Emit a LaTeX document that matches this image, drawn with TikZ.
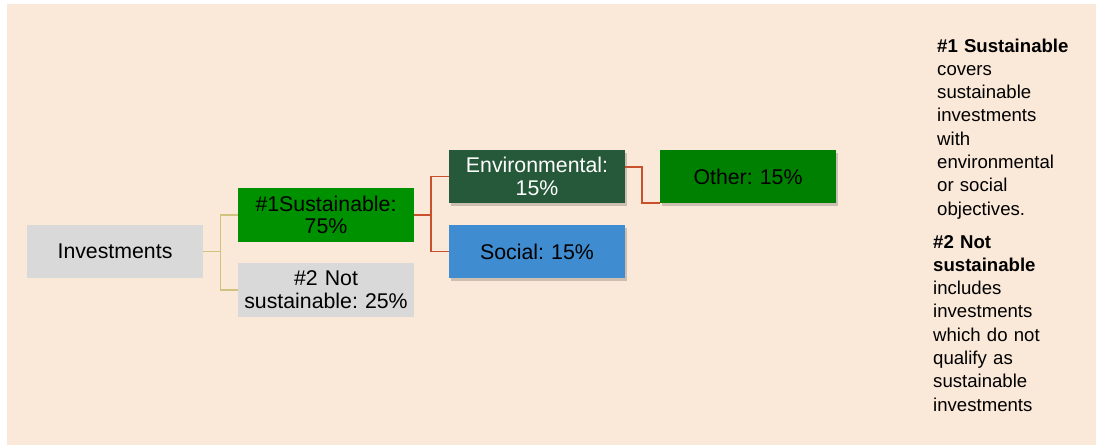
\documentclass[tikz,border=0pt]{standalone}
\usepackage{fontspec}
\setmainfont{Liberation Sans}
\usetikzlibrary{shadows}
\frenchspacing
\definecolor{bgbeige}{RGB}{250,232,216}
\definecolor{boxgray}{RGB}{217,217,217}
\definecolor{susgreen}{RGB}{0,145,0}
\definecolor{envgreen}{RGB}{38,89,58}
\definecolor{socblue}{RGB}{63,140,208}
\definecolor{othgreen}{RGB}{0,128,0}
\definecolor{olivelink}{RGB}{207,195,125}
\definecolor{redlink}{RGB}{200,80,42}
\tikzset{
	catbox/.style={minimum width=176pt, minimum height=53pt, inner sep=2pt, text width=170pt, align=center, font=\fontsize{21.3}{22.7}\selectfont},
	shadowbox/.style={catbox, drop shadow={shadow xshift=2pt, shadow yshift=-3pt, fill=black, opacity=0.18}},
	notetext/.style={anchor=base west, inner sep=0pt, text width=150pt, align=left, font=\fontsize{18.6}{23.3}\selectfont}
}

\begin{document}
\begin{tikzpicture}[x=1pt, y=-1pt]
		%%%%% START %%%%%
		
		\useasboundingbox[fill=white] (0, 0) rectangle (1102, 445);
		\fill[bgbeige] (7, 4) rectangle (1096, 445);
		
		\node[catbox, fill=boxgray] (inv) at (115, 251.5) {Investments};
		\node[catbox, fill=susgreen, minimum height=54pt] (sus) at (326, 215) {\#1Sustainable:\\75\%};
		\node[catbox, fill=boxgray, minimum height=54pt] (notsus) at (326, 290) {\#2 Not\\sustainable: 25\%};
		
		\node[shadowbox, fill=envgreen, text=white] (env) at (537, 176.5) {Environmental:\\15\%};
		\node[shadowbox, fill=socblue] (soc) at (537, 251.5) {Social: 15\%};
		\node[shadowbox, fill=othgreen] (oth) at (748, 176.5) {Other: 15\%};
		
		\draw[line width=1.3pt, color=olivelink] (inv.east) -- ++(17, 0) |- (sus.west);
		\draw[line width=1.3pt, color=olivelink] (inv.east) -- ++(17, 0) |- (notsus.west);
		
		\draw[line width=1.8pt, color=redlink] (sus.east) -- ++(17, 0) |- (env.west);
		\draw[line width=1.8pt, color=redlink] (sus.east) -- ++(17, 0) |- (soc.west);
		\draw[line width=1.8pt, color=redlink] ([yshift=9.5pt]env.east) -| ([xshift=-18pt]oth.south west) -- (oth.south west);
		
		\node[notetext] (note1) at (937, 52) {\textbf{\#1 Sustainable}\\covers\\sustainable\\investments\\with\\environmental\\or social\\objectives.};
		\node[notetext] (note2) at (933, 248) {\textbf{\#2 Not}\\\textbf{sustainable}\\includes\\investments\\which do not\\qualify as\\sustainable\\investments};
		
		%%%%% END %%%%%
	\end{tikzpicture}
\end{document}
